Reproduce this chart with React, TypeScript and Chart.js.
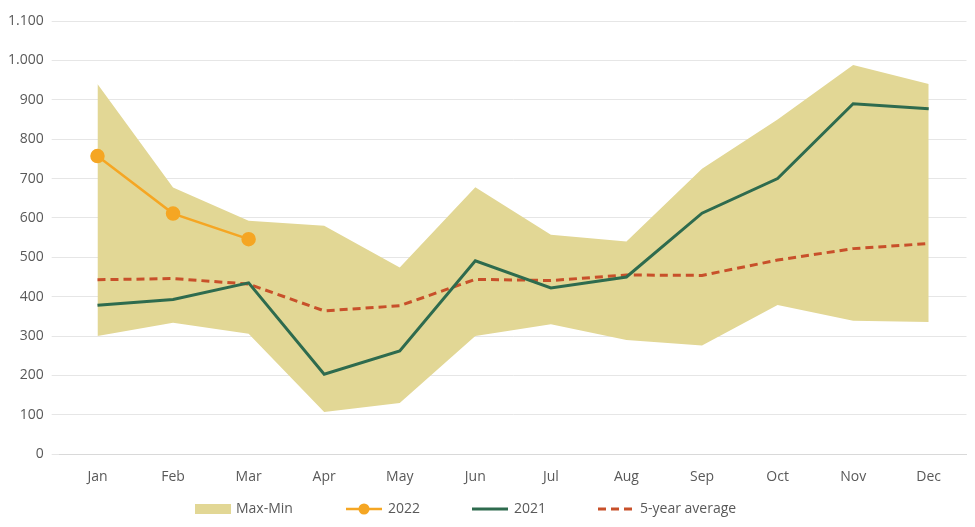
import React, { useEffect, useRef } from "react";
import { Chart, registerables } from "chart.js";
Chart.register(...registerables);

const categories = ["Jan","Feb","Mar","Apr","May","Jun","Jul","Aug","Sep","Oct","Nov","Dec"];
const maxValues = [940,677,593,580,474,678,557,540,725,850,988,940];
const minValues = [300,334,306,107,130,300,330,290,276,379,339,336];
const values2022 = [757,611,546];
const values2021 = [378,393,435,203,262,491,422,450,612,700,890,877];
const avg5 = [443,446,432,364,377,444,441,455,454,493,522,535];

const FONT = "'Open Sans', sans-serif";

const legendPlugin = {
  id: "customLegend",
  afterDraw(chart: any) {
    const ctx = chart.ctx;
    const y = 509;
    ctx.save();
    ctx.font = `14px ${FONT}`;
    ctx.textBaseline = "middle";
    ctx.fillStyle = "#e2d795";
    ctx.fillRect(195, y - 5, 36, 10);
    ctx.fillStyle = "#595959";
    ctx.fillText("Max-Min", 236, y);
    ctx.strokeStyle = "#f5a623"; ctx.lineWidth = 2.5;
    ctx.beginPath(); ctx.moveTo(346, y); ctx.lineTo(382, y); ctx.stroke();
    ctx.fillStyle = "#f5a623";
    ctx.beginPath(); ctx.arc(364, y, 5.5, 0, Math.PI * 2); ctx.fill();
    ctx.fillStyle = "#595959"; ctx.fillText("2022", 388, y);
    ctx.strokeStyle = "#2e6b4e"; ctx.lineWidth = 3;
    ctx.beginPath(); ctx.moveTo(472, y); ctx.lineTo(508, y); ctx.stroke();
    ctx.fillText("2021", 514, y);
    ctx.strokeStyle = "#c8502a"; ctx.lineWidth = 3; ctx.setLineDash([8, 5]);
    ctx.beginPath(); ctx.moveTo(598, y); ctx.lineTo(634, y); ctx.stroke();
    ctx.setLineDash([]);
    ctx.fillText("5-year average", 640, y);
    ctx.restore();
  },
};

export default function App() {
  const ref = useRef<HTMLCanvasElement>(null);
  useEffect(() => {
    document.body.style.margin = "0";
    const chart = new Chart(ref.current!, {
      type: "line",
      data: {
        labels: categories,
        datasets: [
          { label: "Max-Min", data: maxValues, borderWidth: 0, pointRadius: 0, backgroundColor: "#e2d795", fill: "+1", tension: 0, order: 5 },
          { label: "min", data: minValues, borderWidth: 0, pointRadius: 0, backgroundColor: "#e2d795", fill: false, order: 5 },
          { label: "5-year average", data: avg5, borderColor: "#c8502a", borderWidth: 3, borderDash: [8, 5], pointRadius: 0, fill: false, order: 3 },
          { label: "2021", data: values2021, borderColor: "#2e6b4e", borderWidth: 3, pointRadius: 0, fill: false, order: 2 },
          { label: "2022", data: values2022, borderColor: "#f5a623", backgroundColor: "#f5a623", borderWidth: 2.5, pointRadius: 6, pointBackgroundColor: "#f5a623", fill: false, order: 1 },
        ],
      },
      options: {
        animation: false,
        responsive: false,
        layout: { padding: { left: 0, right: -6, top: 21, bottom: 36 } },
        plugins: { legend: { display: false }, tooltip: { enabled: false } },
        scales: {
          x: {
            offset: true,
            grid: { display: false },
            border: { color: "#d9d9d9" },
            ticks: { color: "#595959", font: { family: FONT, size: 14 }, padding: 6 },
          },
          y: {
            min: 0, max: 1100,
            grid: { color: "#e6e6e6" },
            border: { display: false },
            ticks: {
              stepSize: 100, color: "#595959", font: { family: FONT, size: 14 }, padding: 8,
              callback: (v: any) => Number(v).toLocaleString("de-DE"),
            },
          },
        },
      },
      plugins: [legendPlugin],
    });
    return () => chart.destroy();
  }, []);
  return <canvas ref={ref} width={975} height={527} />;
}
